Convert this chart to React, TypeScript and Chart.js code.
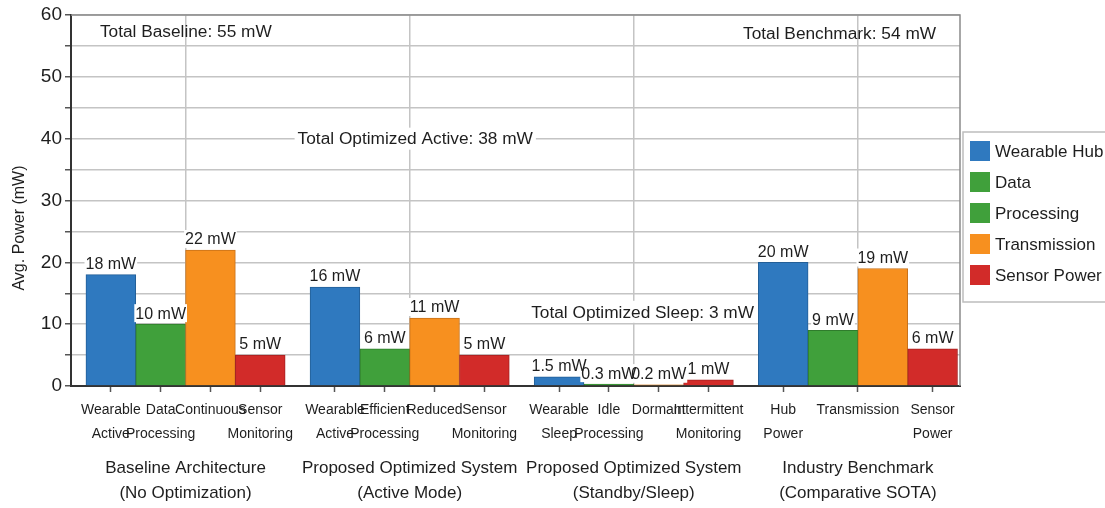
import React, { useEffect, useRef } from "react";
import { Chart, registerables } from "chart.js";

Chart.register(...registerables);

const FONT = "'Liberation Sans', Arial, sans-serif";
const TEXT = "#1e1e1e";

// ---- data ----
const groupNames = [
  ["Baseline Architecture", "(No Optimization)"],
  ["Proposed Optimized System", "(Active Mode)"],
  ["Proposed Optimized System", "(Standby/Sleep)"],
  ["Industry Benchmark", "(Comparative SOTA)"],
];
const tickNames = [
  ["Wearable", "Active"], ["Data", "Processing"], ["Continuous", ""], ["Sensor", "Monitoring"],
  ["Wearable", "Active"], ["Efficient", "Processing"], ["Reduced", ""], ["Sensor", "Monitoring"],
  ["Wearable", "Sleep"], ["Idle", "Processing"], ["Dormant", ""], ["Intermittent", "Monitoring"],
  ["Hub", "Power"], ["Transmission", ""], ["Sensor", "Power"],
];
// bar slot (index of bar, 13.5 = between bars 13 and 14) under which each tick label sits
const tickSlots = [0, 1, 2, 3, 4, 5, 6, 7, 8, 9, 10, 11, 12, 13.5, 15];
const baselineValues = [18, 10, 22, 5];
const activeValues = [16, 6, 11, 5];
const sleepValues = [1.5, 0.3, 0.2, 1];
const benchmarkValues = [20, 9, 19, 6];
const barColors = ["#2f79bf", "#40a03b", "#f7901f", "#d22b29"];
const barEdge = ["#235f97", "#2f7c2c", "#c8721a", "#a62121"];
const legendLabels = ["Wearable Hub", "Data", "Processing", "Transmission", "Sensor Power"];
const legendColors = ["#2f79bf", "#40a03b", "#40a03b", "#f7901f", "#d22b29"];
const yMax = 60;
const yStep = 5;
const annotations = [
  { text: "Total Baseline: 55 mW", x: -0.22, y: 57.3, align: "left", box: false },
  { text: "Total Benchmark: 54 mW", x: 16.57, y: 57.0, align: "right", box: false },
  { text: "Total Optimized Active: 38 mW", x: 3.75, y: 40, align: "left", box: true },
  { text: "Total Optimized Sleep: 3 mW", x: 8.44, y: 12, align: "left", box: true },
];

// ---- layout helpers ----
const GAP = 0.5;
const X_MIN = -0.8;
const X_MAX = 17.05;
const groups = [baselineValues, activeValues, sleepValues, benchmarkValues];
const slotToX = (s: number) => Math.floor(s / 4) * (4 + GAP) + (s % 4);
const points = groups.flatMap((vals, g) => vals.map((v, i) => ({ x: g * (4 + GAP) + i, y: v })));
const tickPositions = tickSlots.map(slotToX);
const groupCenters = groups.map((_, g) => g * (4 + GAP) + 1.5);

const valueLabelPlugin = {
  id: "valueLabels",
  afterDatasetsDraw(chart: any) {
    const ctx = chart.ctx;
    const meta = chart.getDatasetMeta(0);
    ctx.save();
    ctx.font = `16px ${FONT}`;
    ctx.textAlign = "center";
    ctx.textBaseline = "middle";
    const items = meta.data.map((el: any, i: number) => ({
      x: el.x,
      y: el.y - 11,
      t: `${points[i].y} mW`,
    }));
    ctx.fillStyle = "#ffffff";
    items.forEach((it: any) => {
      const w = ctx.measureText(it.t).width;
      ctx.fillRect(it.x - w / 2 - 1, it.y - 9, w + 2, 18);
    });
    ctx.fillStyle = TEXT;
    items.forEach((it: any) => ctx.fillText(it.t, it.x, it.y + 1));
    ctx.restore();
  },
};

const annotationPlugin = {
  id: "annotations",
  beforeDatasetsDraw(chart: any) {
    const ctx = chart.ctx;
    const xs = chart.scales.x;
    const ys = chart.scales.y;
    ctx.save();
    ctx.font = `17.3px ${FONT}`;
    ctx.textBaseline = "middle";
    annotations.forEach((a) => {
      const px = xs.getPixelForValue(a.x);
      const py = ys.getPixelForValue(a.y);
      const w = ctx.measureText(a.text).width;
      const left = a.align === "left" ? px : px - w;
      if (a.box) {
        ctx.fillStyle = "#ffffff";
        ctx.fillRect(left - 3, py - 11, w + 6, 22);
      }
      ctx.fillStyle = TEXT;
      ctx.textAlign = "left";
      ctx.fillText(a.text, left, py + 1);
    });
    ctx.restore();
  },
};

const framePlugin = {
  id: "frame",
  afterDraw(chart: any) {
    const { ctx, chartArea } = chart;
    ctx.save();
    ctx.strokeStyle = "#8a8a8a";
    ctx.lineWidth = 1.5;
    ctx.beginPath();
    ctx.moveTo(chartArea.left, chartArea.top);
    ctx.lineTo(chartArea.right, chartArea.top);
    ctx.lineTo(chartArea.right, chartArea.bottom);
    ctx.stroke();
    // y-axis title
    ctx.translate(20, 228);
    ctx.rotate(-Math.PI / 2);
    ctx.font = `16px ${FONT}`;
    ctx.fillStyle = TEXT;
    ctx.textAlign = "center";
    ctx.textBaseline = "middle";
    ctx.fillText("Avg. Power (mW)", 0, 0);
    ctx.restore();

    // legend
    ctx.save();
    const lx = chartArea.right + 3;
    const ly = 132;
    ctx.strokeStyle = "#bdbdbd";
    ctx.lineWidth = 1.5;
    ctx.strokeRect(lx, ly, 160, 170);
    ctx.font = `17px ${FONT}`;
    ctx.textBaseline = "middle";
    ctx.textAlign = "left";
    legendLabels.forEach((lab, i) => {
      const y = ly + 19 + i * 31;
      ctx.fillStyle = legendColors[i];
      ctx.fillRect(lx + 7, y - 10, 20, 20);
      ctx.fillStyle = TEXT;
      ctx.fillText(lab, lx + 32, y + 1);
    });
    ctx.restore();
  },
};

export default function App() {
  const ref = useRef<HTMLCanvasElement | null>(null);
  useEffect(() => {
    document.body.style.margin = "0";
    const canvas = ref.current;
    if (!canvas) return;
    const chart = new Chart(canvas, {
      type: "bar",
      data: {
        datasets: [
          {
            label: "Power",
            data: points as any,
            backgroundColor: points.map((_, i) => barColors[i % 4]),
            borderColor: points.map((_, i) => barEdge[i % 4]),
            borderWidth: 1,
            barPercentage: 1,
            categoryPercentage: 1,
            xAxisID: "x",
            yAxisID: "y",
          },
        ],
      },
      options: {
        animation: false,
        responsive: false,
        devicePixelRatio: 1,
        layout: { padding: { left: 8, top: 15, right: 145, bottom: 0 } },
        plugins: { legend: { display: false }, tooltip: { enabled: false } },
        scales: {
          x: {
            type: "linear",
            position: "bottom",
            offset: false,
            bounds: "data",
            min: X_MIN,
            max: X_MAX,
            afterBuildTicks: (scale: any) => {
              scale.ticks = tickPositions.map((v) => ({ value: v }));
            },
            afterFit: (scale: any) => {
              scale.height = 60;
            },
            ticks: {
              autoSkip: false,
              maxRotation: 0,
              minRotation: 0,
              padding: 7,
              color: TEXT,
              font: { family: FONT, size: 14, lineHeight: 1.65 },
              callback: (_v: any, i: number) => tickNames[i],
            },
            grid: {
              offset: false,
              drawOnChartArea: false,
              drawTicks: true,
              tickLength: 6,
              tickColor: "#555",
              tickWidth: 1.5,
            },
            border: { display: true, color: "#333", width: 2 },
          },
          xg: {
            type: "linear",
            position: "bottom",
            offset: false,
            bounds: "data",
            min: X_MIN,
            max: X_MAX,
            afterBuildTicks: (scale: any) => {
              scale.ticks = groupCenters.map((v) => ({ value: v }));
            },
            afterFit: (scale: any) => {
              scale.height = 62;
            },
            ticks: {
              autoSkip: false,
              maxRotation: 0,
              minRotation: 0,
              padding: 10,
              color: TEXT,
              font: { family: FONT, size: 17, lineHeight: 1.47 },
              callback: (_v: any, i: number) => groupNames[i],
            },
            grid: {
              offset: false,
              drawOnChartArea: true,
              drawTicks: false,
              color: "#c4c4c4",
              lineWidth: 1.5,
            },
            border: { display: false },
          },
          y: {
            type: "linear",
            min: 0,
            max: yMax,
            afterFit: (scale: any) => {
              scale.width = 63;
            },
            ticks: {
              stepSize: yStep,
              padding: 3,
              color: TEXT,
              font: { family: FONT, size: 19 },
              callback: (v: any) => (Number(v) % 10 === 0 ? String(v) : ""),
            },
            grid: {
              color: "#c4c4c4",
              lineWidth: 1.5,
              tickColor: "#555",
              tickLength: 6,
            },
            border: { display: true, color: "#333", width: 2 },
          },
        },
      } as any,
      plugins: [annotationPlugin, valueLabelPlugin, framePlugin],
    });
    return () => chart.destroy();
  }, []);
  return (
    <div style={{ width: 1105, height: 508 }}>
      <canvas ref={ref} width={1105} height={508} />
    </div>
  );
}
